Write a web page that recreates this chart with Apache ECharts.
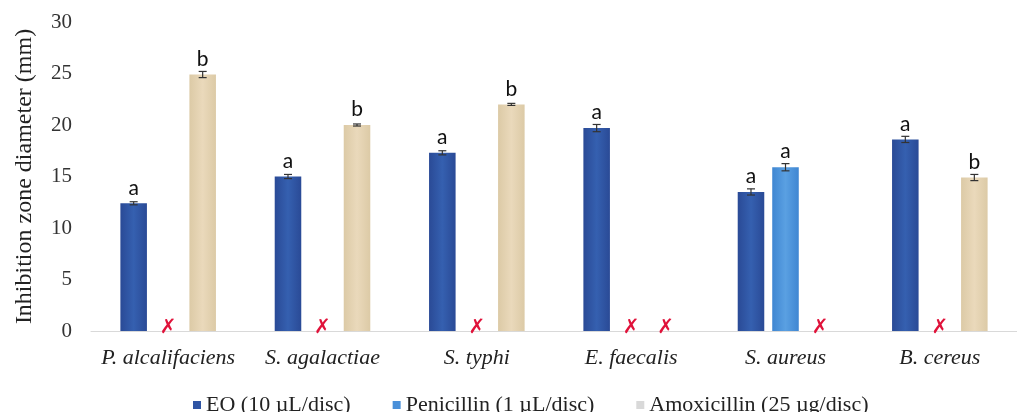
<!DOCTYPE html>
<html>
<head>
<meta charset="utf-8">
<script src="https://cdn.jsdelivr.net/npm/echarts@6/dist/echarts.min.js"></script>
<style>html,body{margin:0;padding:0;background:#fff}#c{width:1017px;height:412px}</style>
</head>
<body>
<div id="c"></div>
<script>
var categories = ['P. alcalifaciens', 'S. agalactiae', 'S. typhi', 'E. faecalis', 'S. aureus', 'B. cereus'];
var seriesNames = ['EO (10 \u00b5L/disc)', 'Penicillin (1 \u00b5L/disc)', 'Amoxicillin (25 \u00b5g/disc)'];
var eoValues = [12.4, 15.0, 17.3, 19.7, 13.5, 18.6];
var penicillinValues = [null, null, null, null, 15.9, null];
var amoxicillinValues = [24.9, 20.0, 22.0, null, null, 14.9];
var eoErrors = [0.15, 0.2, 0.2, 0.35, 0.3, 0.3];
var penicillinErrors = [null, null, null, null, 0.35, null];
var amoxicillinErrors = [0.3, 0.1, 0.1, null, null, 0.3];
var eoLetters = ['a', 'a', 'a', 'a', 'a', 'a'];
var penicillinLetters = ['', '', '', '', 'a', ''];
var amoxicillinLetters = ['b', 'b', 'b', '', '', 'b'];
var yTicks = [0, 5, 10, 15, 20, 25, 30];

var values = [eoValues, penicillinValues, amoxicillinValues];
var errors = [eoErrors, penicillinErrors, amoxicillinErrors];
var letters = [eoLetters, penicillinLetters, amoxicillinLetters];
var colors = [
  new echarts.graphic.LinearGradient(0, 0, 1, 0, [{offset: 0, color: '#2a4a96'}, {offset: 0.5, color: '#3560b0'}, {offset: 1, color: '#2a4a96'}]),
  new echarts.graphic.LinearGradient(0, 0, 1, 0, [{offset: 0, color: '#3f86d2'}, {offset: 0.5, color: '#5aa0e2'}, {offset: 1, color: '#3f86d2'}]),
  new echarts.graphic.LinearGradient(0, 0, 1, 0, [{offset: 0, color: '#dccaa6'}, {offset: 0.5, color: '#ead9bb'}, {offset: 1, color: '#dccaa6'}])
];
var legendColors = ['#2f55a4', '#4a90d9', '#d9d9d9'];
var BAR_W = 0.172, BAR_GAP = 0.30;

var errData = [], missData = [];
for (var s = 0; s < 3; s++) {
  for (var i = 0; i < categories.length; i++) {
    if (values[s][i] == null) missData.push([i, s]);
    else errData.push([i, values[s][i], errors[s][i], s]);
  }
}
function offsetFor(api, s) {
  var band = api.size([1, 0])[0];
  var bw = band * BAR_W;
  return (s - 1) * bw * (1 + BAR_GAP);
}

var barSeries = [0, 1, 2].map(function (s) {
  return {
    name: seriesNames[s], type: 'bar', data: values[s],
    barWidth: (BAR_W * 100) + '%', barGap: (BAR_GAP * 100) + '%',
    itemStyle: {color: colors[s]},
    label: {
      show: true, position: 'top', distance: 5,
      fontFamily: 'Lato', fontSize: 21, color: '#111',
      formatter: function (p) { return letters[s][p.dataIndex]; }
    }
  };
});

var option = {
  animation: false,
  color: legendColors,
  grid: {left: 91, right: -17, top: 22, bottom: 81},
  legend: {
    left: 188, top: 389, itemWidth: 8, itemHeight: 8, itemGap: 42,
    icon: 'rect',
    textStyle: {fontFamily: 'Liberation Serif', fontSize: 22, color: '#222'},
    data: seriesNames.map(function (n, k) { return {name: n, itemStyle: {color: legendColors[k]}}; })
  },
  xAxis: {
    type: 'category', data: categories,
    axisLine: {lineStyle: {color: '#d9d9d9', width: 1}},
    axisTick: {show: false},
    axisLabel: {interval: 0, fontFamily: 'Liberation Serif', fontStyle: 'italic', fontSize: 22, color: '#222', margin: 16}
  },
  yAxis: {
    type: 'value', min: yTicks[0], max: yTicks[yTicks.length - 1], interval: 5,
    name: 'Inhibition zone diameter (mm)', nameLocation: 'middle', nameGap: 54,
    nameTextStyle: {fontFamily: 'Liberation Serif', fontSize: 24, color: '#222'},
    axisLine: {show: false}, axisTick: {show: false}, splitLine: {show: false},
    axisLabel: {fontFamily: 'Liberation Serif', fontSize: 21, color: '#333', margin: 19}
  },
  series: barSeries.concat([
    {
      type: 'custom', data: errData, z: 5,
      renderItem: function (params, api) {
        var ci = api.value(0), v = api.value(1), e = api.value(2), s = api.value(3);
        var off = offsetFor(api, s);
        var top = api.coord([ci, v + e]);
        var bot = api.coord([ci, v - e]);
        var x = top[0] + off;
        var st = {stroke: '#333', lineWidth: 1.2};
        return {type: 'group', children: [
          {type: 'line', shape: {x1: x, y1: top[1], x2: x, y2: bot[1]}, style: st},
          {type: 'line', shape: {x1: x - 4, y1: top[1], x2: x + 4, y2: top[1]}, style: st},
          {type: 'line', shape: {x1: x - 4, y1: bot[1], x2: x + 4, y2: bot[1]}, style: st}
        ]};
      }
    },
    {
      type: 'custom', data: missData, z: 6,
      renderItem: function (params, api) {
        var ci = api.value(0), s = api.value(1);
        var p = api.coord([ci, 0]);
        var x = p[0] + offsetFor(api, s);
        return {type: 'text', style: {
          x: x, y: p[1] - 3, text: '\u2717', fill: '#e0123a',
          font: '20px "DejaVu Sans"', align: 'center', verticalAlign: 'middle'
        }};
      }
    }
  ])
};
echarts.init(document.getElementById('c')).setOption(option);
</script>
</body>
</html>
